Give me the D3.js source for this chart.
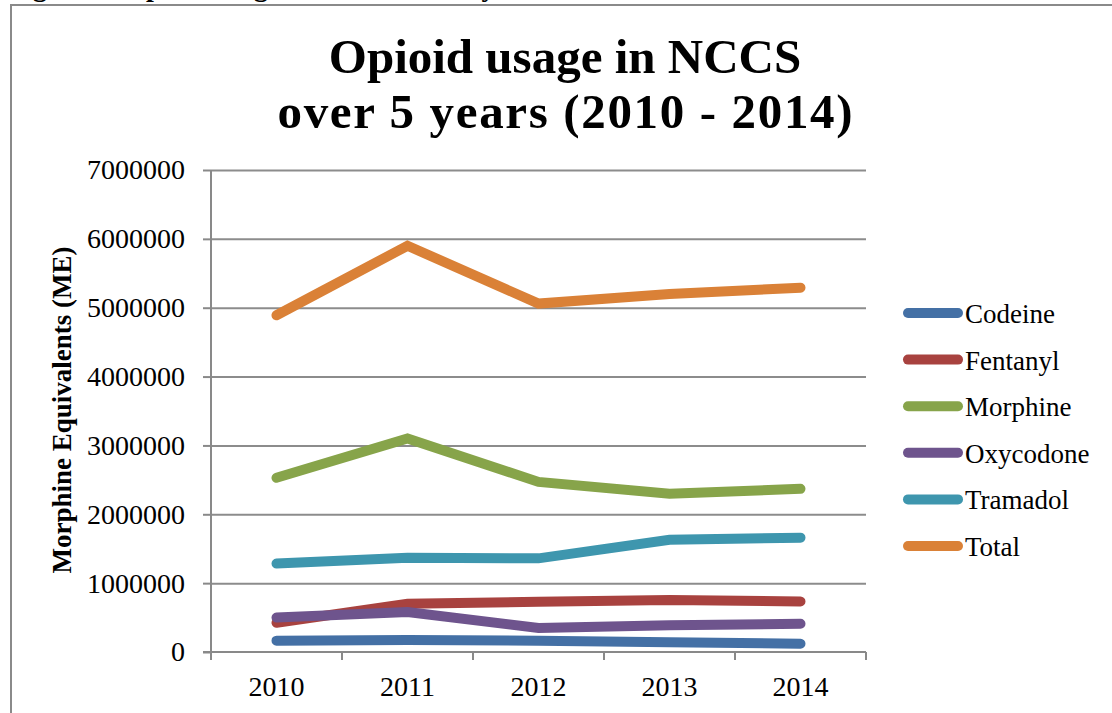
<!DOCTYPE html>
<html>
<head>
<meta charset="utf-8">
<script src="https://cdn.jsdelivr.net/npm/d3@7"></script>
<style>
  html, body { margin: 0; padding: 0; background: #fff; }
  svg { display: block; font-family: 'Liberation Serif', 'Times New Roman', serif; }
  svg text { font-family: 'Liberation Serif', 'Times New Roman', serif; }
  .axis path, .axis line { stroke: #898989; stroke-width: 2; }
  .grid line { stroke: #8c8c8c; stroke-width: 2; }
  .grid path { display: none; }
</style>
</head>
<body>
<svg id="chart"></svg>
<script>
// data
const years = ['2010', '2011', '2012', '2013', '2014'];
const seriesNames = ['Codeine', 'Fentanyl', 'Morphine', 'Oxycodone', 'Tramadol', 'Total'];
const codeine = [165000, 175000, 165000, 140000, 120000];
const fentanyl = [425000, 700000, 730000, 755000, 735000];
const morphine = [2530000, 3100000, 2470000, 2300000, 2370000];
const oxycodone = [500000, 580000, 350000, 390000, 410000];
const tramadol = [1285000, 1370000, 1360000, 1630000, 1660000];
const total = [4890000, 5900000, 5060000, 5200000, 5290000];
const yTicks = [0, 1000000, 2000000, 3000000, 4000000, 5000000, 6000000, 7000000];
const colors = ['#4470a5', '#a8423f', '#87a44a', '#6e548d', '#3e96ae', '#da8137'];

const width = 1112;
const height = 713;
const plotLeft = 211, plotRight = 866, plotTop = 170, plotBottom = 652;

const series = seriesNames.map((name, i) => ({
  name: name,
  color: colors[i],
  values: [codeine, fentanyl, morphine, oxycodone, tramadol, total][i]
}));

const svg = d3.select('#chart').attr('width', width).attr('height', height);

// frame of the pasted figure
svg.append('path')
  .attr('d', 'M11,' + height + 'V5H' + width)
  .attr('fill', 'none')
  .attr('stroke', '#8a8a8a')
  .attr('stroke-width', 2);

// caption cut off at the top edge, as in the source figure
svg.append('text')
  .attr('x', 8)
  .attr('y', -4)
  .style('font-weight', 'bold')
  .style('font-size', '28px')
  .text('Figure 1: Opioid usage in NCCS over 5 years');

// title
const title = svg.append('text')
  .attr('text-anchor', 'middle')
  .style('font-weight', 'bold')
  .style('font-size', '49px');
title.append('tspan').attr('x', 565).attr('y', 73).text('Opioid usage in NCCS');
title.append('tspan').attr('x', 565).attr('y', 128)
  .attr('textLength', 575).attr('lengthAdjust', 'spacing')
  .text('over 5 years (2010 - 2014)');

const xScale = d3.scaleBand().domain(years).range([plotLeft, plotRight]).padding(0);
const yScale = d3.scaleLinear().domain([0, 7000000]).range([plotBottom, plotTop]);

// gridlines
svg.append('g')
  .attr('class', 'grid')
  .attr('transform', 'translate(' + plotLeft + ',0)')
  .call(d3.axisRight(yScale).tickValues(yTicks.slice(1)).tickSize(plotRight - plotLeft).tickFormat(''));

// y axis
const yAxis = svg.append('g')
  .attr('class', 'axis')
  .attr('transform', 'translate(' + plotLeft + ',0)')
  .call(d3.axisLeft(yScale).tickValues(yTicks).tickSize(8).tickSizeOuter(0).tickPadding(18).tickFormat(d3.format('d')));
yAxis.attr('font-family', null);
yAxis.selectAll('text').style('font-size', '28px').attr('fill', '#000');
yAxis.select('.domain').attr('d', 'M0,' + plotTop + 'V' + (plotBottom + 8));

// x axis: labels centred, tick marks between categories
const xAxis = svg.append('g')
  .attr('class', 'axis')
  .attr('transform', 'translate(0,' + plotBottom + ')')
  .call(d3.axisBottom(xScale).tickSize(0).tickPadding(24));
xAxis.attr('font-family', null);
xAxis.selectAll('text').style('font-size', '28px').attr('fill', '#000');
xAxis.select('.domain').attr('d', 'M' + (plotLeft - 8) + ',0H' + plotRight);
xAxis.selectAll('.sep')
  .data(years.concat(['end']))
  .enter()
  .append('line')
  .attr('class', 'sep')
  .attr('x1', (d) => d === 'end' ? plotRight : xScale(d))
  .attr('x2', (d) => d === 'end' ? plotRight : xScale(d))
  .attr('y1', 0)
  .attr('y2', 8);

// y axis title
svg.append('text')
  .attr('transform', 'translate(71,' + ((plotTop + plotBottom) / 2 - 1) + ') rotate(-90)')
  .attr('text-anchor', 'middle')
  .style('font-weight', 'bold')
  .style('font-size', '27px')
  .text('Morphine Equivalents (ME)');

// lines
const line = d3.line()
  .x((d, i) => xScale(years[i]) + xScale.bandwidth() / 2)
  .y((d) => yScale(d));

svg.selectAll('.series')
  .data(series)
  .enter()
  .append('path')
  .attr('class', 'series')
  .attr('d', (s) => line(s.values))
  .attr('fill', 'none')
  .attr('stroke', (s) => s.color)
  .attr('stroke-width', 10)
  .attr('stroke-linecap', 'round')
  .attr('stroke-linejoin', 'miter');

// legend
const legend = svg.selectAll('.legend')
  .data(series)
  .enter()
  .append('g')
  .attr('class', 'legend')
  .attr('transform', (s, i) => 'translate(903,' + (313 + i * 46.6) + ')');

legend.append('line')
  .attr('x1', 5)
  .attr('x2', 55)
  .attr('stroke', (s) => s.color)
  .attr('stroke-width', 10)
  .attr('stroke-linecap', 'round');

legend.append('text')
  .attr('x', 62)
  .attr('y', 10)
  .style('font-size', '27px')
  .text((s) => s.name);
</script>
</body>
</html>
